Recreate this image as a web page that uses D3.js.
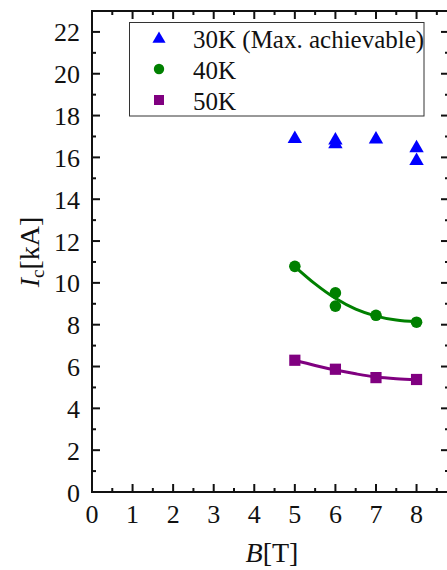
<!DOCTYPE html>
<html>
<head>
<meta charset="utf-8">
<script src="https://cdn.jsdelivr.net/npm/d3@7"></script>
<style>
	body { margin: 0; background: #fff; }
	text { font-family: "Liberation Serif", "Times New Roman", serif; fill: #111; }
</style>
</head>
<body>
<div id="container"></div>
<script>
// 1. Data
const series = ["30K (Max. achievable)", "40K", "50K"]
const colors = ["#0000ff", "#008000", "#800080"]

const b30 = [5, 6, 6, 7, 8, 8]
const ic30 = [16.94, 16.86, 16.68, 16.91, 16.49, 15.88]

const b40 = [5, 6, 6, 7, 8]
const ic40 = [10.79, 9.52, 8.89, 8.45, 8.12]

const b50 = [5, 6, 7, 8]
const ic50 = [6.30, 5.87, 5.47, 5.38]

// fitted curves
const fitB = [5, 5.5, 6, 6.5, 7, 7.5, 8]
const fit40 = [10.78, 9.95, 9.26, 8.74, 8.41, 8.22, 8.14]
const fit50 = [6.30, 6.05, 5.83, 5.65, 5.50, 5.42, 5.38]

const xTicks = [0, 1, 2, 3, 4, 5, 6, 7, 8]
const yTicks = [0, 2, 4, 6, 8, 10, 12, 14, 16, 18, 20, 22]

// 2. Dimensions
const width = 447, height = 570
const margin = { top: 11, right: -2, bottom: 78, left: 92 }

// 3. Canvas
const svg = d3.select("#container")
	.append("svg")
	.attr("width", width)
	.attr("height", height)

// 4. Scales
const x = d3.scaleLinear().domain([0, 8.8]).range([margin.left, width - margin.right])
const y = d3.scaleLinear().domain([0, 23]).range([height - margin.bottom, margin.top])

// 5. Frame and axes (ticks inside, on all four sides)
const major = 8, minor = 4
const frame = svg.append("g")

frame.append("rect")
	.attr("x", x(0)).attr("y", y(23))
	.attr("width", x(8.8) - x(0)).attr("height", y(0) - y(23))
	.attr("fill", "none").attr("stroke", "#111").attr("stroke-width", 2)

const xAll = d3.range(0, 8.8, 0.5)
const yAll = d3.range(0, 23.01, 1)

frame.selectAll(".xb").data(xAll).join("line")
	.attr("x1", d => x(d)).attr("x2", d => x(d))
	.attr("y1", y(0)).attr("y2", d => y(0) - (d % 1 === 0 ? major : minor))
	.attr("stroke", "#111").attr("stroke-width", 2)
frame.selectAll(".xt").data(xAll).join("line")
	.attr("x1", d => x(d)).attr("x2", d => x(d))
	.attr("y1", y(23)).attr("y2", d => y(23) + (d % 1 === 0 ? major : minor))
	.attr("stroke", "#111").attr("stroke-width", 2)
frame.selectAll(".yl").data(yAll).join("line")
	.attr("y1", d => y(d)).attr("y2", d => y(d))
	.attr("x1", x(0)).attr("x2", d => x(0) + (d % 2 === 0 ? major : minor))
	.attr("stroke", "#111").attr("stroke-width", 2)
frame.selectAll(".yr").data(yAll).join("line")
	.attr("y1", d => y(d)).attr("y2", d => y(d))
	.attr("x1", x(8.8)).attr("x2", d => x(8.8) - (d % 2 === 0 ? major : minor))
	.attr("stroke", "#111").attr("stroke-width", 2)

svg.selectAll(".xlab").data(xTicks).join("text")
	.attr("x", d => x(d)).attr("y", 523)
	.attr("text-anchor", "middle").attr("font-size", 26)
	.text(d => d)
svg.selectAll(".ylab").data(yTicks).join("text")
	.attr("x", 80).attr("y", d => y(d) + 9.5)
	.attr("text-anchor", "end").attr("font-size", 26)
	.text(d => d)

const xTitle = svg.append("text")
	.attr("x", 272).attr("y", 562)
	.attr("text-anchor", "middle").attr("font-size", 28)
xTitle.append("tspan").attr("font-style", "italic").text("B")
xTitle.append("tspan").text("[T]")

const yTitle = svg.append("text")
	.attr("transform", "translate(39,252) rotate(-90)")
	.attr("text-anchor", "middle").attr("font-size", 28)
yTitle.append("tspan").attr("font-style", "italic").text("I")
yTitle.append("tspan").attr("font-size", 19).attr("dy", 5).text("c")
yTitle.append("tspan").attr("dy", -5).text("[kA]")

// 6. Fit lines
const line = d3.line().x(d => x(d[0])).y(d => y(d[1])).curve(d3.curveMonotoneX)
svg.append("path")
	.attr("d", line(d3.zip(fitB, fit40)))
	.attr("fill", "none").attr("stroke", colors[1]).attr("stroke-width", 3)
svg.append("path")
	.attr("d", line(d3.zip(fitB, fit50)))
	.attr("fill", "none").attr("stroke", colors[2]).attr("stroke-width", 3)

// 7. Markers
const tri = d3.symbol().type(d3.symbolTriangle).size(90)
svg.selectAll(".p30").data(d3.zip(b30, ic30)).join("path")
	.attr("d", tri)
	.attr("transform", d => `translate(${x(d[0])},${y(d[1]) + 1})`)
	.attr("fill", colors[0])
svg.selectAll(".p40").data(d3.zip(b40, ic40)).join("circle")
	.attr("cx", d => x(d[0])).attr("cy", d => y(d[1])).attr("r", 5.8)
	.attr("fill", colors[1])
svg.selectAll(".p50").data(d3.zip(b50, ic50)).join("rect")
	.attr("x", d => x(d[0]) - 5.6).attr("y", d => y(d[1]) - 5.6)
	.attr("width", 11.2).attr("height", 11.2)
	.attr("fill", colors[2])

// 8. Legend
const legend = svg.append("g")
legend.append("rect")
	.attr("x", 129.5).attr("y", 22.5).attr("width", 294.5).attr("height", 93.5)
	.attr("fill", "#fff").attr("stroke", "#333").attr("stroke-width", 1)

const rows = [38, 69, 100]
legend.append("path")
	.attr("d", d3.symbol().type(d3.symbolTriangle).size(75))
	.attr("transform", `translate(159,${rows[0] + 1})`)
	.attr("fill", colors[0])
legend.append("circle").attr("cx", 159).attr("cy", rows[1]).attr("r", 5.2).attr("fill", colors[1])
legend.append("rect").attr("x", 154).attr("y", rows[2] - 5).attr("width", 10).attr("height", 10).attr("fill", colors[2])

legend.selectAll(".lt").data(series).join("text")
	.attr("x", 193).attr("y", (d, i) => rows[i] + 9.5)
	.attr("font-size", 25)
	.text(d => d)
</script>
</body>
</html>
